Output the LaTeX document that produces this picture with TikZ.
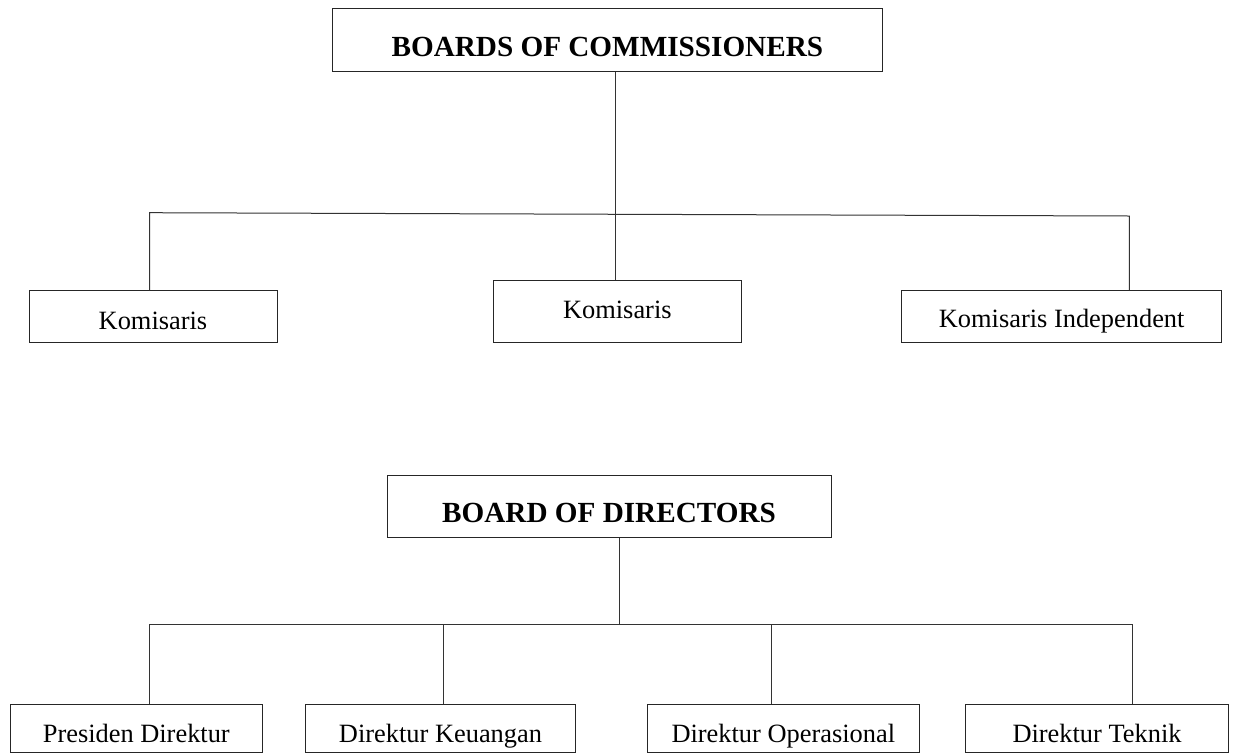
\documentclass[tikz,border=0pt]{standalone}
\usepackage{fontspec}
\setmainfont{Liberation Serif}
\begin{document}
\begin{tikzpicture}[x=1pt,y=-1pt,
  box/.style={draw=black!85, line width=1pt, inner sep=0pt, anchor=north, align=center},
  headbox/.style={box, font=\fontsize{29.2}{35}\selectfont\bfseries},
  unitbox/.style={box, font=\fontsize{26.4}{32}\selectfont},
  link/.style={draw=black!80, line width=1pt}]
\useasboundingbox (0,0) rectangle (1236,753);
% Boards of commissioners
\node[headbox, minimum width=549.3pt, text height=47.2pt, text depth=15.2pt] (boc) at (607.35,8.3) {BOARDS OF COMMISSIONERS};
\node[unitbox, minimum width=248pt, text height=39pt, text depth=13pt] (k1) at (153,290.3) {Komisaris};
\node[unitbox, minimum width=248.7pt, text height=37.7pt, text depth=24.6pt] (k2) at (617.35,280) {Komisaris};
\node[unitbox, minimum width=320pt, text height=36.7pt, text depth=15.6pt] (k3) at (1061.7,290) {Komisaris Independent};
\coordinate (bl) at (149.7,212.7);
\coordinate (bm) at (615.7,214.3);
\coordinate (br) at (1129.3,216);
\draw[link] (k1.north -| bl) -- (bl) -- (br) -- (k3.north -| br);
\draw[link] (boc.south -| bm) -- (k2.north -| bm);
% Board of directors
\node[headbox, minimum width=444pt, text height=47pt, text depth=15pt] (bod) at (609,474.7) {BOARD OF DIRECTORS};
\node[unitbox, minimum width=252pt, text height=37.7pt, text depth=10.3pt] (d1) at (136.3,704) {Presiden Direktur};
\node[unitbox, minimum width=269.6pt, text height=37.7pt, text depth=10.3pt] (d2) at (440.5,704) {Direktur Keuangan};
\node[unitbox, minimum width=272pt, text height=37.7pt, text depth=10.3pt] (d3) at (783.3,704) {Direktur Operasional};
\node[unitbox, minimum width=262.6pt, text height=37.7pt, text depth=10.3pt] (d4) at (1097,704) {Direktur Teknik};
\coordinate (cl) at (149.7,624.7);
\coordinate (cm) at (619.7,624.7);
\coordinate (c2) at (443.7,624.7);
\coordinate (c3) at (771.7,624.7);
\coordinate (cr) at (1132,624.7);
\draw[link] (d1.north -| cl) -- (cl) -- (cr) -- (d4.north -| cr);
\draw[link] (bod.south -| cm) -- (cm);
\draw[link] (c2) -- (d2.north -| c2);
\draw[link] (c3) -- (d3.north -| c3);
\end{tikzpicture}
\end{document}
